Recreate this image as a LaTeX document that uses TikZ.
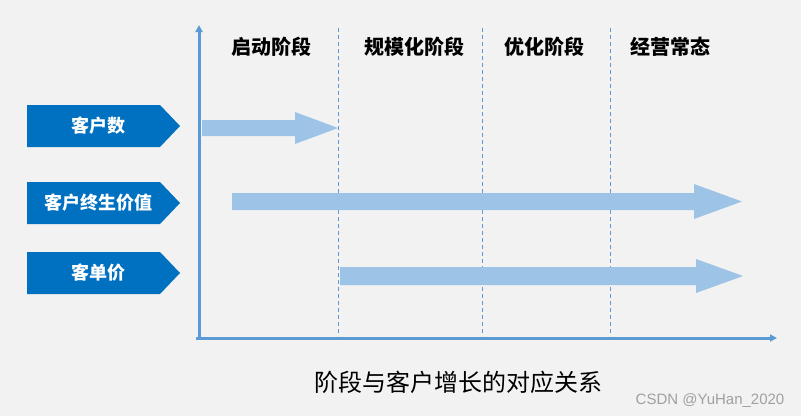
\documentclass[tikz,border=0pt]{standalone}
\usepackage{fontspec}
\newfontfamily\cjk{Noto Sans CJK SC}
\newfontfamily\wm{Liberation Sans}
\usetikzlibrary{arrows.meta}
\definecolor{bg}{HTML}{F2F2F2}
\definecolor{boxblue}{HTML}{0070C0}
\definecolor{lightarrow}{HTML}{9DC3E6}
\definecolor{axisblue}{HTML}{5B9BD5}
\definecolor{wmgray}{HTML}{A0A0A0}
\begin{document}
\begin{tikzpicture}[x=1pt,y=-1pt,
  axisline/.style={draw=axisblue, line width=3pt, -{Triangle[length=7pt,width=7pt]}},
  stagesep/.style={draw=axisblue, line width=0.8pt, dash pattern=on 4pt off 3pt},
  tagbox/.style={fill=boxblue},
  growarrow/.style={fill=lightarrow},
  taglbl/.style={font=\cjk\bfseries\fontsize{18}{20}\selectfont, text=white, inner sep=0pt},
  stagelbl/.style={font=\cjk\bfseries\fontsize{20}{22}\selectfont, text=black, inner sep=0pt},
  titlelbl/.style={font=\cjk\fontsize{24}{26}\selectfont, text=black, inner sep=0pt},
  wmlbl/.style={font=\wm\fontsize{15}{17}\selectfont, text=wmgray, inner sep=0pt}]
\fill[bg] (0,0) rectangle (801,416);
\useasboundingbox (0,0) rectangle (801,416);

% stage separators
\coordinate (s1t) at (338,28); \coordinate (s1b) at (338,336);
\coordinate (s2t) at (482,28); \coordinate (s2b) at (482,336);
\coordinate (s3t) at (610,28); \coordinate (s3b) at (610,336);
\draw[stagesep] (s1t) -- (s1b);
\draw[stagesep] (s2t) -- (s2b);
\draw[stagesep] (s3t) -- (s3b);

% axes
\coordinate (origin) at (199,338);
\coordinate (ytop) at (199,25);
\coordinate (xstart) at (196,338);
\coordinate (xend) at (777,338);
\draw[axisline] (origin) -- (ytop);
\draw[axisline] (xstart) -- (xend);

% stage labels
\node[stagelbl] (st1) at (271,47) {启动阶段};
\node[stagelbl] (st2) at (414,47) {规模化阶段};
\node[stagelbl] (st3) at (544,47) {优化阶段};
\node[stagelbl] (st4) at (670,47) {经营常态};

% left tags
\fill[tagbox] (27,105) -- (160,105) -- (180,126) -- (160,147) -- (27,147) -- cycle;
\fill[tagbox] (27,182) -- (160,182) -- (180,203) -- (160,224) -- (27,224) -- cycle;
\fill[tagbox] (27,252) -- (160,252) -- (180,273) -- (160,294) -- (27,294) -- cycle;
\node[taglbl] (t1) at (98,126) {客户数};
\node[taglbl] (t2) at (98,203) {客户终生价值};
\node[taglbl] (t3) at (98,273) {客单价};

% growth arrows
\fill[growarrow] (202,120) -- (295,120) -- (295,112) -- (338,128) -- (295,144) -- (295,136) -- (202,136) -- cycle;
\fill[growarrow] (232,193) -- (694,193) -- (694,184) -- (742,201.5) -- (694,219) -- (694,210) -- (232,210) -- cycle;
\fill[growarrow] (340,267) -- (696,267) -- (696,259) -- (743,276) -- (696,293) -- (696,285) -- (340,285) -- cycle;

% title and watermark
\node[titlelbl] (title) at (458,382) {阶段与客户增长的对应关系};
\node[wmlbl] (wm) at (710,401) {CSDN @YuHan\_2020};
\end{tikzpicture}
\end{document}
